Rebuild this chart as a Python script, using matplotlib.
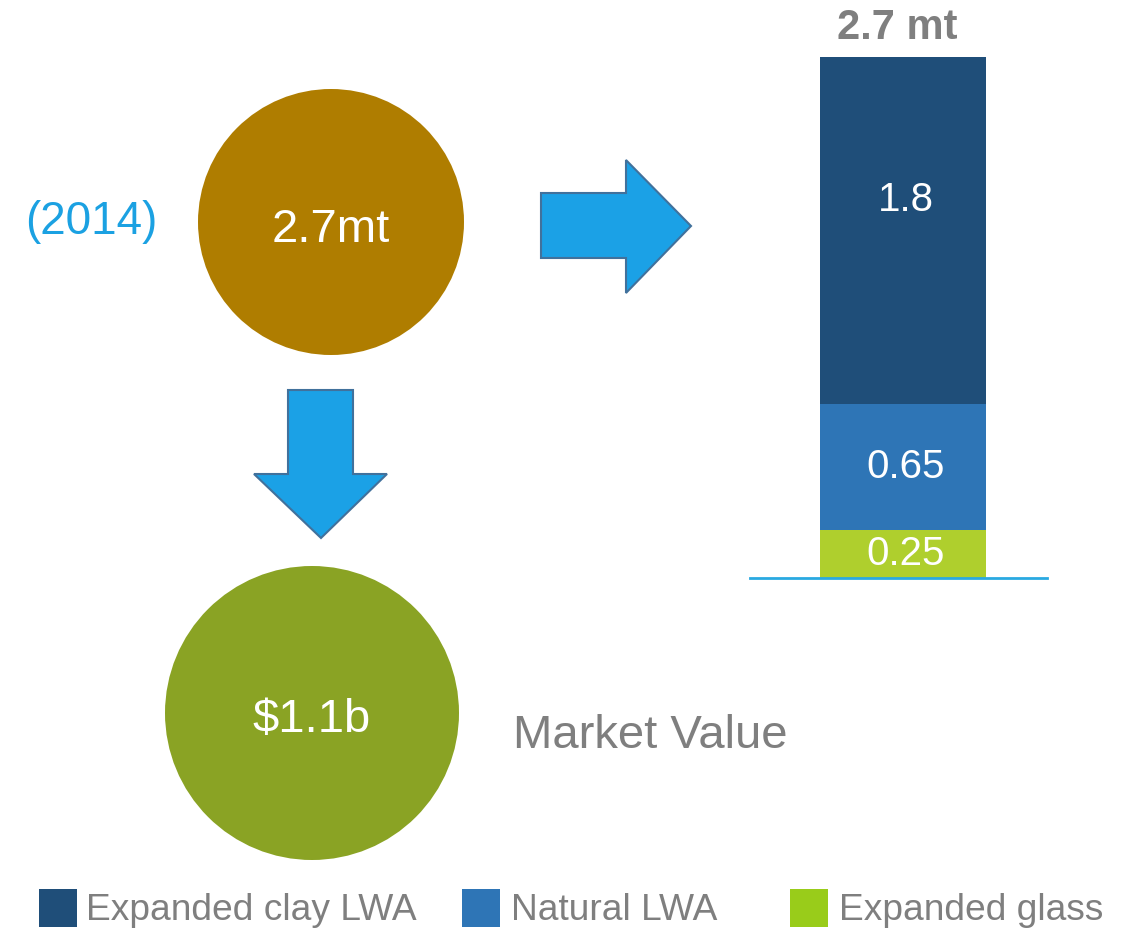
import matplotlib
matplotlib.use("Agg")
import matplotlib.pyplot as plt
from matplotlib.patches import Circle, Polygon, Rectangle

plt.rcParams['font.family'] = ['Liberation Sans', 'DejaVu Sans']

# ---- data ----
categories = ["Expanded glass", "Natural LWA", "Expanded clay LWA"]   # bottom -> top
values = [0.25, 0.65, 1.8]
bar_colors = ["#AFCF2D", "#2E75B6", "#1F4E79"]
legend_order = ["Expanded clay LWA", "Natural LWA", "Expanded glass"]
legend_colors = ["#1F4E79", "#2E75B6", "#99CC1A"]
total_label = "2.7 mt"
volume_label = "2.7mt"
value_label = "$1.1b"
year_label = "(2014)"
market_label = "Market Value"

W, H = 1132, 930
fig = plt.figure(figsize=(W / 100, H / 100), dpi=100)

# canvas axes in pixel coordinates
ax0 = fig.add_axes([0, 0, 1, 1])
ax0.set_xlim(0, W)
ax0.set_ylim(H, 0)
ax0.axis("off")

gray = "#7F7F7F"
arrow_fc = "#1BA1E6"
arrow_ec = "#41719C"

ax0.add_patch(Circle((331, 222), 133, facecolor="#AF7D00", edgecolor="none"))
ax0.add_patch(Circle((312, 713), 147, facecolor="#8AA324", edgecolor="none"))

ax0.add_patch(Polygon([(541, 193), (626, 193), (626, 160), (691, 226),
                       (626, 293), (626, 258), (541, 258)],
                      closed=True, facecolor=arrow_fc, edgecolor=arrow_ec, lw=1.5))
ax0.add_patch(Polygon([(288, 390), (353, 390), (353, 474), (387, 474),
                       (321, 538), (254, 474), (288, 474)],
                      closed=True, facecolor=arrow_fc, edgecolor=arrow_ec, lw=1.5))

ax0.text(331, 230, volume_label, color="white", fontsize=34, ha="center", va="center")
ax0.text(312, 720, value_label, color="white", fontsize=34, ha="center", va="center")
ax0.text(91, 222, year_label, color="#1BA1E2", fontsize=33, ha="center", va="center")
ax0.text(650, 736, market_label, color=gray, fontsize=34, ha="center", va="center")

# legend
leg_x = [39, 462, 790]
leg_tx = [86, 511, 839]
for name, col, sx, tx in zip(legend_order, legend_colors, leg_x, leg_tx):
    ax0.add_patch(Rectangle((sx, 889), 38, 38, facecolor=col, edgecolor="none"))
    ax0.text(tx, 910, name, color=gray, fontsize=26.7, ha="left", va="center")

# ---- stacked bar axes ----
x0, x1 = 750, 1047
y_base, y_top = 578, 57
ax = fig.add_axes([x0 / W, (H - y_base) / H, (x1 - x0) / W, (y_base - y_top) / H])
ax.set_xlim(-(903 - x0) / (x1 - x0), (x1 - 903) / (x1 - x0))
ax.set_ylim(0, sum(values))
bottom = 0
label_shift = [0, 0, 0.16]
for v, c, sh in zip(values, bar_colors, label_shift):
    ax.bar(0, v, width=166 / (x1 - x0), bottom=bottom, color=c, edgecolor="none")
    ax.text(0.01, bottom + v / 2 + sh, f"{v:g}", color="white", fontsize=29,
            ha="center", va="center")
    bottom += v
ax.text(-0.02, sum(values) + 0.15, total_label, color=gray, fontsize=30,
        fontweight="bold", ha="center", va="center", clip_on=False)
for s in ["top", "left", "right"]:
    ax.spines[s].set_visible(False)
ax.spines["bottom"].set_color("#29A9E1")
ax.spines["bottom"].set_linewidth(2)
ax.set_xticks([])
ax.set_yticks([])
ax.patch.set_alpha(0)

fig.savefig("out.png", dpi=100)
